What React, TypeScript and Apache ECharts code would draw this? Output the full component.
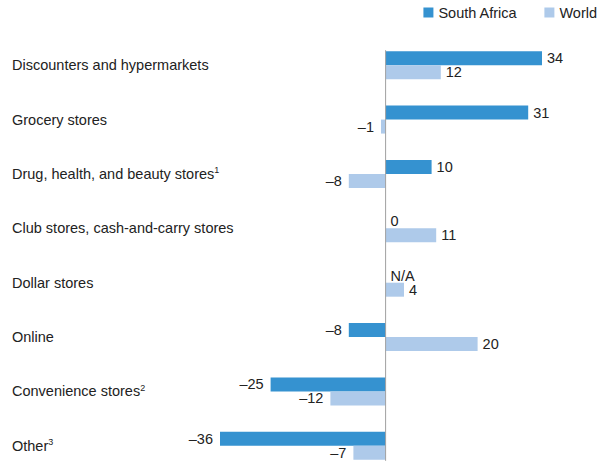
import React, { useEffect, useRef } from "react";
import * as echarts from "echarts";

const categories = [
  "Discounters and hypermarkets",
  "Grocery stores",
  "Drug, health, and beauty stores",
  "Club stores, cash-and-carry stores",
  "Dollar stores",
  "Online",
  "Convenience stores",
  "Other",
];
const footnotes = ["", "", "1", "", "", "", "2", "3"];
const southAfrica: (number | null)[] = [34, 31, 10, 0, null, -8, -25, -36];
const world: number[] = [12, -1, -8, 11, 4, 20, -12, -7];

const FONT = "'Liberation Sans', Arial, Helvetica, sans-serif";
const TEXT = "#222222";

function fmt(v: number) {
  return v < 0 ? "\u2013" + Math.abs(v) : String(v);
}

function toData(arr: (number | null)[]) {
  return arr.map((v) => {
    const val = v === null ? 0 : v;
    return {
      value: val,
      label: {
        position: val < 0 ? "left" : "right",
        distance: val < 0 ? 7 : 5,
        formatter: v === null ? "N/A" : fmt(val),
      },
    };
  });
}

export default function App() {
  const ref = useRef<HTMLDivElement>(null);
  useEffect(() => {
    if (!ref.current) return;
    const chart = echarts.init(ref.current, undefined, { renderer: "svg" });
    const labelBase = {
      show: true,
      color: TEXT,
      fontSize: 14.5,
      fontFamily: FONT,
    };
    chart.setOption({
      animation: false,
      textStyle: { fontFamily: FONT },
      legend: {
        data: ["South Africa", "World"],
        right: 2,
        top: 5,
        padding: 0,
        itemWidth: 10,
        itemHeight: 10,
        itemGap: 27,
        icon: "rect",
        textStyle: { color: TEXT, fontSize: 14.5, fontFamily: FONT },
      },
      grid: { left: 220, width: 322, top: 38, height: 435, containLabel: false },
      xAxis: {
        type: "value",
        min: -36,
        max: 34,
        show: false,
      },
      yAxis: {
        type: "category",
        inverse: true,
        data: categories,
        axisLine: { show: false, onZero: false },
        axisTick: { show: false },
        splitLine: { show: false },
        axisLabel: {
          align: "left",
          margin: 208,
          color: TEXT,
          fontSize: 14.5,
          fontFamily: FONT,
          formatter: (value: string, idx: number) =>
            footnotes[idx] ? `${value}{sup|${footnotes[idx]}}` : value,
          rich: {
            sup: {
              fontSize: 9,
              color: TEXT,
              fontFamily: FONT,
              verticalAlign: "top",
              padding: [0, 0, 7, 0],
            },
          },
        },
      },
      series: [
        {
          name: "South Africa",
          type: "bar",
          data: toData(southAfrica),
          barWidth: 14,
          barGap: "0%",
          itemStyle: { color: "#3592d0" },
          label: labelBase,
        },
        {
          name: "World",
          type: "bar",
          data: toData(world),
          barWidth: 14,
          barGap: "0%",
          itemStyle: { color: "#aecaea" },
          label: labelBase,
        },
        {
          name: "zeroLine",
          type: "custom",
          silent: true,
          z: 5,
          data: [[0, 0]],
          renderItem: (params: any, api: any) => {
            const top = api.coord([0, 0]);
            const bottom = api.coord([0, categories.length - 1]);
            return {
              type: "line",
              shape: { x1: top[0], y1: top[1] - 15, x2: bottom[0], y2: bottom[1] + 15 },
              style: { stroke: "#a0a0a0", lineWidth: 1 },
            };
          },
        },
      ],
    });
    return () => chart.dispose();
  }, []);
  return (
    <div style={{ position: "fixed", left: 0, top: 0, width: 599, height: 463, overflow: "hidden", background: "#fff" }}>
      <div ref={ref} style={{ width: 599, height: 480 }} />
    </div>
  );
}
